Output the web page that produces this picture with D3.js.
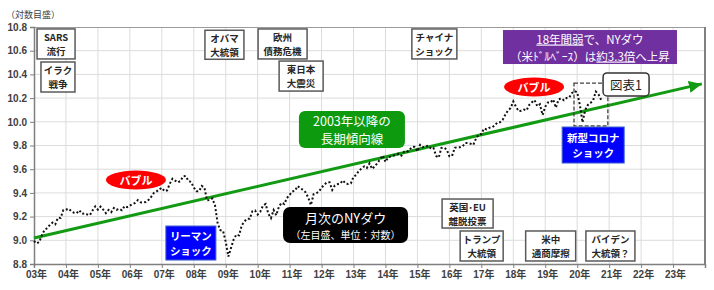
<!DOCTYPE html>
<html><head><meta charset="utf-8">
<script src="https://cdn.jsdelivr.net/npm/d3@7"></script>
<style>
html,body{margin:0;padding:0;background:#fff;}
svg{display:block;}
text{font-family:"Liberation Sans","Noto Sans CJK JP",sans-serif;}
</style></head>
<body>
<svg id="chart" width="714" height="290"></svg>
<script>
// ---- data ----
const startYear = 2003;           // first month: Jan 2003
// NY Dow month-end closes, Jan 2003 - Oct 2020 (plotted as natural log)
const dowMonthly = [
 8054,7891,7992,8480,8850,8985,9234,9416,9275,9801,9782,10454,
 10488,10584,10358,10226,10188,10435,10140,10174,10080,10027,10428,10783,
 10490,10766,10504,10193,10467,10275,10641,10482,10569,10440,10806,10718,
 10865,10993,11109,11367,11168,11150,11186,11381,11679,12081,12222,12463,
 12622,12269,12354,13063,13628,13409,13212,13358,13896,13930,13372,13265,
 12650,12266,12263,12820,12638,11350,11378,11544,10851,9325,8829,8776,
 8001,7063,7609,8168,8500,8447,9172,9496,9712,9713,10345,10428,
 10067,10325,10857,11009,10137,9774,10466,10015,10788,11118,11006,11578,
 11892,12226,12320,12811,12570,12414,12143,11614,10913,11955,12046,12218,
 12633,12952,13212,13214,12393,12880,13009,13091,13437,13096,13026,13104,
 13861,14054,14579,14840,15116,14910,15500,14810,15130,15546,16086,16577,
 15699,16322,16458,16581,16717,16827,16563,17098,17043,17391,17828,17823,
 17165,18133,17776,17841,18011,17620,17690,16528,16285,17664,17720,17425,
 16466,16517,17685,17774,17787,17930,18432,18401,18308,18142,19124,19763,
 19864,20812,20663,20941,21009,21350,21891,21948,22405,23377,24272,24719,
 26149,25029,24103,24163,24416,24271,25415,25965,26458,25116,25538,23327,
 25000,25916,25929,26593,24815,26600,26864,26403,26917,27046,28051,28538,
 28256,25409,21917,24346,25383,25813,26428,28430,27782,26502
];
// long-term trend line since 2003 (log value at start / arrow tip)
const trendYears = [2003, 2023.9];
const trendValues = [9.02, 10.32];
// axis ticks
const xTickYears = [2003,2004,2005,2006,2007,2008,2009,2010,2011,2012,2013,2014,2015,2016,2017,2018,2019,2020,2021,2022,2023];
const xTickLabels = ["03年","04年","05年","06年","07年","08年","09年","10年","11年","12年","13年","14年","15年","16年","17年","18年","19年","20年","21年","22年","23年"];
const yTickValues = [8.8,9.0,9.2,9.4,9.6,9.8,10.0,10.2,10.4,10.6,10.8];

// ---- annotation layout (anchored in data units) ----
const eventBoxes = [
 {lines:["SARS","流行"], year:2003.69, val:10.657, w:38, h:30},
 {lines:["イラク","戦争"], year:2003.75, val:10.378, w:34, h:30},
 {lines:["オバマ","大統領"], year:2008.96, val:10.650, w:39, h:29},
 {lines:["欧州","債務危機"], year:2010.78, val:10.657, w:49, h:30},
 {lines:["東日本","大震災"], year:2011.36, val:10.386, w:44, h:30},
 {lines:["チャイナ","ショック"], year:2015.53, val:10.657, w:45, h:30},
 {lines:["英国･EU","離脱投票"], year:2016.57, val:9.226, w:51, h:29},
 {lines:["トランプ","大統領"], year:2017.01, val:8.952, w:43, h:30},
 {lines:["米中","通商摩擦"], year:2019.17, val:8.952, w:50, h:30},
 {lines:["バイデン","大統領？"], year:2021.04, val:8.952, w:49, h:30}
];
const blueBoxes = [
 {lines:["リーマン","ショック"], year:2007.91, val:8.977, w:50, h:34},
 {lines:["新型コロナ","ショック"], year:2020.50, val:9.804, w:62, h:36}
];
const bubbles = [
 {label:"バブル", year:2006.19, val:9.509},
 {label:"バブル", year:2018.65, val:10.294}
];

// ---- drawing ----
const svg = d3.select("#chart");
const x = d3.scaleLinear().domain([2003, 2024]).range([34, 705]);
const y = d3.scaleLinear().domain([8.8, 10.8]).range([264, 27]);
const CJK = '"Noto Sans CJK JP","Liberation Sans",sans-serif';

// gridlines
const grid = svg.append("g");
grid.selectAll("line.v").data(d3.range(2004, 2024)).join("line")
  .attr("x1", d => x(d)).attr("x2", d => x(d))
  .attr("y1", y(10.8)).attr("y2", y(8.8))
  .attr("stroke", "#dcdcdc").attr("stroke-width", 1);
grid.selectAll("line.h").data(yTickValues.slice(1, -1)).join("line")
  .attr("x1", x(2003)).attr("x2", x(2024))
  .attr("y1", d => y(d)).attr("y2", d => y(d))
  .attr("stroke", "#dcdcdc").attr("stroke-width", 1);

// top & right border
svg.append("line").attr("x1", x(2003)).attr("x2", x(2024)).attr("y1", y(10.8)+0.5).attr("y2", y(10.8)+0.5)
  .attr("stroke", "#9a9a9a").attr("stroke-width", 1);
svg.append("line").attr("x1", x(2024)).attr("x2", x(2024)).attr("y1", y(10.8)).attr("y2", y(8.8))
  .attr("stroke", "#808080").attr("stroke-width", 2);

// axes
const yAxis = svg.append("g").attr("transform", `translate(${x(2003)},0)`)
  .call(d3.axisLeft(y).tickValues(yTickValues).tickSize(4).tickPadding(3).tickFormat(d3.format(".1f")));
const xAxis = svg.append("g").attr("transform", `translate(0,${y(8.8)})`)
  .call(d3.axisBottom(x).tickValues(xTickYears.concat([2024])).tickSize(4).tickPadding(3)
    .tickFormat((d) => { const i = xTickYears.indexOf(d); return i >= 0 ? xTickLabels[i] : ""; }));
[yAxis, xAxis].forEach(a => {
  a.select(".domain").attr("stroke", "#7f7f7f").attr("stroke-width", 1.5);
  a.selectAll(".tick line").attr("stroke", "#7f7f7f");
  a.selectAll("text").attr("fill", "#404040").attr("font-size", 10).attr("font-weight", "bold")
    .style("font-family", '"Liberation Sans","Noto Sans CJK JP",sans-serif');
});
xAxis.selectAll("text").attr("dx", 2);

// axis note
svg.append("text").attr("x", 6).attr("y", 18).attr("font-size", 9).attr("fill", "#404040")
  .style("font-family", CJK).text("（対数目盛）");

// trend arrow
const defs = svg.append("defs");
defs.append("marker").attr("id", "ah").attr("markerUnits", "userSpaceOnUse")
  .attr("markerWidth", 13).attr("markerHeight", 12).attr("refX", 13).attr("refY", 6)
  .attr("orient", "auto")
  .append("path").attr("d", "M0,0 L13,6 L0,12 Z").attr("fill", "#139a13");
svg.append("line")
  .attr("x1", x(trendYears[0])).attr("y1", y(trendValues[0]))
  .attr("x2", x(trendYears[1])).attr("y2", y(trendValues[1]))
  .attr("stroke", "#139a13").attr("stroke-width", 3).attr("marker-end", "url(#ah)");

// Dow monthly dotted line
const line = d3.line()
  .x((d, i) => x(startYear + i / 12))
  .y(d => y(Math.log(d)));
svg.append("path").datum(dowMonthly).attr("d", line)
  .attr("fill", "none").attr("stroke", "#111").attr("stroke-width", 2)
  .attr("stroke-dasharray", "2,2.2");

// helper for two-line text
function twoLines(g, lines, cx, cy, size, gap, color, weight) {
  lines.forEach((t, i) => {
    g.append("text").attr("x", cx).attr("y", cy + (i - (lines.length - 1) / 2) * gap)
      .attr("text-anchor", "middle").attr("dominant-baseline", "central")
      .attr("font-size", size).attr("font-weight", weight).attr("fill", color)
      .style("font-family", CJK).text(t);
  });
}

// white event boxes
eventBoxes.forEach(b => {
  const cx = x(b.year), cy = y(b.val);
  const g = svg.append("g");
  g.append("rect").attr("x", cx - b.w/2).attr("y", cy - b.h/2).attr("width", b.w).attr("height", b.h)
    .attr("fill", "#fff").attr("stroke", "#595959").attr("stroke-width", 1.5);
  twoLines(g, b.lines, cx, cy, 9.5, 14, "#262626", "bold");
});

// blue boxes
blueBoxes.forEach(b => {
  const cx = x(b.year), cy = y(b.val);
  const g = svg.append("g");
  g.append("rect").attr("x", cx - b.w/2).attr("y", cy - b.h/2).attr("width", b.w).attr("height", b.h)
    .attr("fill", "#0000ff").attr("stroke", "#3a5fcd").attr("stroke-width", 1);
  twoLines(g, b.lines, cx, cy, 10.5, 15.5, "#fff", "bold");
});

// bubbles
bubbles.forEach(b => {
  const cx = x(b.year), cy = y(b.val);
  svg.append("ellipse").attr("cx", cx).attr("cy", cy).attr("rx", 30).attr("ry", 9.5).attr("fill", "#ff0000");
  svg.append("text").attr("x", cx).attr("y", cy).attr("text-anchor", "middle").attr("dominant-baseline", "central")
    .attr("font-size", 11).attr("font-weight", "bold").attr("fill", "#fff").style("font-family", CJK).text(b.label);
});

// green label box
{
  const cx = x(2012.95), cy = y(9.935), w = 106, h = 37;
  svg.append("rect").attr("x", cx - w/2).attr("y", cy - h/2).attr("width", w).attr("height", h)
    .attr("rx", 6).attr("fill", "#0e9a0e");
  twoLines(svg.append("g"), ["2003年以降の", "長期傾向線"], cx, cy, 12.5, 18, "#fff", "normal");
}
// black label box
{
  const cx = x(2012.75), cy = y(9.129), w = 125, h = 36;
  svg.append("rect").attr("x", cx - w/2).attr("y", cy - h/2).attr("width", w).attr("height", h)
    .attr("rx", 7).attr("fill", "#000");
  svg.append("text").attr("x", cx).attr("y", cy - 8).attr("text-anchor", "middle").attr("dominant-baseline", "central")
    .attr("font-size", 13).attr("fill", "#fff").style("font-family", CJK).text("月次のNYダウ");
  svg.append("text").attr("x", cx).attr("y", cy + 9).attr("text-anchor", "middle").attr("dominant-baseline", "central")
    .attr("font-size", 10).attr("fill", "#fff").style("font-family", CJK).text("（左目盛、単位：対数）");
}
// purple note box
{
  const cx = x(2020.40), cy = y(10.631), w = 174, h = 34;
  svg.append("rect").attr("x", cx - w/2).attr("y", cy - h/2).attr("width", w).attr("height", h).attr("fill", "#7030a0");
  const t1 = svg.append("text").attr("x", cx).attr("y", cy - 8.5).attr("text-anchor", "middle").attr("dominant-baseline", "central")
    .attr("font-size", 11.5).attr("fill", "#fff").style("font-family", CJK);
  t1.append("tspan").style("text-decoration", "underline").text("18年間弱");
  t1.append("tspan").text("で、NYダウ");
  const t2 = svg.append("text").attr("x", cx).attr("y", cy + 8.5).attr("text-anchor", "middle").attr("dominant-baseline", "central")
    .attr("font-size", 11.5).attr("fill", "#fff").style("font-family", CJK);
  t2.append("tspan").text("（米ﾄﾞﾙﾍﾞｰｽ）は");
  t2.append("tspan").style("text-decoration", "underline").text("約3.3倍");
  t2.append("tspan").text("へ上昇");
}
// dashed highlight box and 図表1 tag
svg.append("rect").attr("x", x(2019.90)).attr("y", y(10.327))
  .attr("width", x(2020.96) - x(2019.90)).attr("height", y(9.965) - y(10.327))
  .attr("fill", "none").attr("stroke", "#404040").attr("stroke-width", 1.3).attr("stroke-dasharray", "4,2");
{
  const cx = x(2021.53), cy = y(10.315), w = 46, h = 23;
  svg.append("rect").attr("x", cx - w/2).attr("y", cy - h/2).attr("width", w).attr("height", h)
    .attr("rx", 4).attr("fill", "#fff").attr("stroke", "#333").attr("stroke-width", 1.5);
  svg.append("text").attr("x", cx).attr("y", cy).attr("text-anchor", "middle").attr("dominant-baseline", "central")
    .attr("font-size", 12.5).attr("fill", "#222").style("font-family", CJK).text("図表1");
}
</script>
</body></html>
